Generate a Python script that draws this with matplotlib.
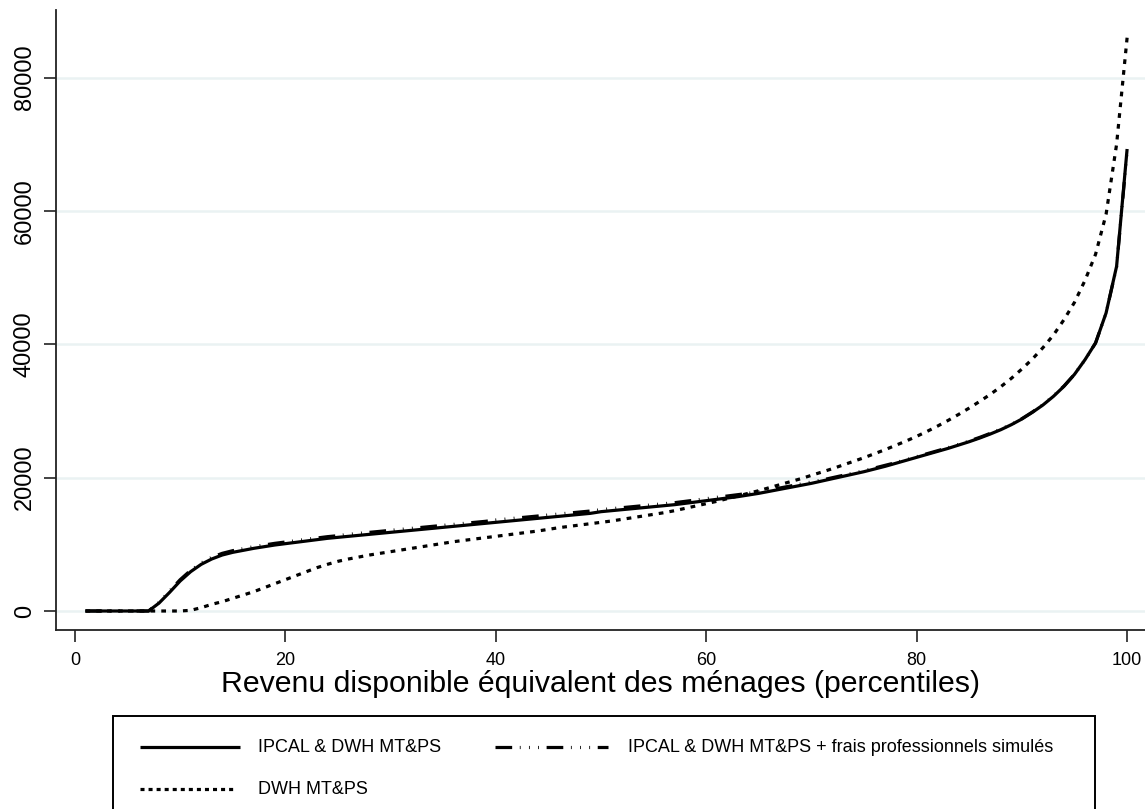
import matplotlib
matplotlib.use("Agg")
import matplotlib.pyplot as plt
from matplotlib.lines import Line2D
from matplotlib.patches import Rectangle

plt.rcParams['font.family'] = ['Liberation Sans', 'DejaVu Sans']
plt.rcParams['lines.scale_dashes'] = False

percentiles = list(range(1, 101))

ipcal = [0, 0, 0, 0, 0, 0, 0, 1200, 2800, 4500,
         5900, 7000, 7800, 8400, 8800, 9100, 9400, 9650, 9900, 10100,
         10300, 10500, 10700, 10900, 11050, 11200, 11350, 11500, 11650, 11800,
         11950, 12100, 12250, 12400, 12550, 12700, 12850, 13000, 13150, 13300,
         13450, 13600, 13750, 13900, 14050, 14200, 14350, 14500, 14650, 14900,
         15050, 15200, 15350, 15500, 15650, 15800, 15950, 16150, 16350, 16550,
         16750, 16950, 17150, 17400, 17650, 17950, 18250, 18550, 18850, 19150,
         19500, 19850, 20200, 20550, 20900, 21300, 21700, 22150, 22600, 23050,
         23500, 23950, 24400, 24900, 25400, 25950, 26550, 27200, 27950, 28800,
         29800, 30900, 32200, 33700, 35500, 37700, 40200, 44700, 51700, 69300]

ipcal_frais = [0, 0, 0, 0, 0, 0, 0, 1300, 3000, 4700,
               6100, 7200, 8050, 8650, 9050, 9350, 9650, 9900, 10150, 10350,
               10550, 10750, 10950, 11150, 11300, 11500, 11650, 11800, 11950, 12100,
               12250, 12400, 12550, 12700, 12850, 13000, 13150, 13300, 13450, 13650,
               13800, 13950, 14100, 14250, 14400, 14550, 14700, 14850, 15000, 15200,
               15350, 15500, 15650, 15800, 15950, 16100, 16250, 16450, 16650, 16850,
               17050, 17250, 17450, 17650, 17900, 18150, 18450, 18750, 19050, 19350,
               19650, 20000, 20350, 20700, 21050, 21450, 21850, 22250, 22700, 23150,
               23600, 24050, 24500, 25000, 25500, 26050, 26650, 27300, 28000, 28850,
               29850, 30950, 32250, 33750, 35500, 37700, 40200, 44700, 51600, 69000]

dwh = [0, 0, 0, 0, 0, 0, 0, 0, 0, 0,
       100, 500, 1000, 1400, 1900, 2400, 2900, 3500, 4100, 4700,
       5300, 5900, 6500, 7000, 7450, 7800, 8100, 8400, 8650, 8900,
       9150, 9400, 9650, 9900, 10150, 10400, 10600, 10800, 11000, 11200,
       11400, 11600, 11800, 12000, 12250, 12500, 12700, 12900, 13100, 13300,
       13500, 13750, 14000, 14250, 14500, 14750, 15050, 15400, 15750, 16100,
       16450, 16850, 17250, 17650, 18050, 18500, 18950, 19400, 19850, 20350,
       20850, 21350, 21900, 22450, 23000, 23600, 24200, 24850, 25500, 26200,
       26950, 27750, 28600, 29500, 30450, 31450, 32500, 33650, 34900, 36300,
       37800, 39500, 41400, 43700, 46300, 49600, 53500, 59500, 70000, 86000]

labels = ["IPCAL & DWH MT&PS",
          "IPCAL & DWH MT&PS + frais professionnels simulés",
          "DWH MT&PS"]
xlabel = "Revenu disponible équivalent des ménages (percentiles)"
xticks = [0, 20, 40, 60, 80, 100]
yticks = [0, 20000, 40000, 60000, 80000]

W, H = 1145, 809
fig = plt.figure(figsize=(W / 100, H / 100), dpi=100)
ax = fig.add_axes([56 / W, 1 - 630 / H, 1 - 56 / W, (630 - 10) / H])

solid_style = dict(color='black', lw=2.3, linestyle='-', solid_capstyle='butt')
frais_style = dict(color='black', lw=2.3, dash_capstyle='butt',
                   linestyle=(0, (12.0, 5.5, 0.6, 6.0, 0.6, 6.0, 0.6, 5.5)))
dot_style = dict(color='black', lw=2.3, dash_capstyle='butt',
                 linestyle=(0, (3.4, 4.4)))
dot_style_leg = dict(color='black', lw=2.3, dash_capstyle='butt',
                     linestyle=(0, (2.9, 2.9)))

ax.plot(percentiles, dwh, **dot_style, zorder=3)
ax.plot(percentiles, ipcal_frais, **frais_style, zorder=4)
ax.plot(percentiles, ipcal, **solid_style, zorder=5)

ax.set_xlim(-1.8, 101.7)
ax.set_ylim(-2850, 90150)
ax.set_xticks(xticks)
ax.set_xticklabels([str(t) for t in xticks], fontsize=13)
ax.set_yticks(yticks)
ax.set_yticklabels([str(t) for t in yticks], fontsize=17, rotation=90, va='center')
ax.tick_params(axis='both', direction='out', length=8.5, width=1.2, color='#222222')
ax.tick_params(axis='x', pad=7)
ax.tick_params(axis='y', pad=6)
ax.grid(axis='y', color='#eaf2f3', lw=1.8, zorder=0)
ax.set_axisbelow(True)
for s in ['top', 'right']:
    ax.spines[s].set_visible(False)
for s in ['left', 'bottom']:
    ax.spines[s].set_linewidth(1.3)
    ax.spines[s].set_color('#222222')
ax.set_xlabel(xlabel, fontsize=21.8, labelpad=1)

# legend box (manual, figure coordinates)
fx = lambda px: px / W
fy = lambda py: 1 - py / H
fig.add_artist(Rectangle((fx(113), fy(815)), fx(1095) - fx(113), fy(716) - fy(815),
                         transform=fig.transFigure, fill=False, edgecolor='black', lw=1.4))
entries = [
    (140, 240, 258, 747, solid_style, labels[0]),
    (495, 608, 628, 747, frais_style, labels[1]),
    (140, 233, 258, 789, dot_style_leg, labels[2]),
]
for x0, x1, tx, yy, st, lab in entries:
    fig.add_artist(Line2D([fx(x0), fx(x1)], [fy(yy), fy(yy)], transform=fig.transFigure, **st))
    fig.text(fx(tx), fy(yy), lab, fontsize=13, va='center', ha='left')

fig.savefig("out.png", dpi=100)
